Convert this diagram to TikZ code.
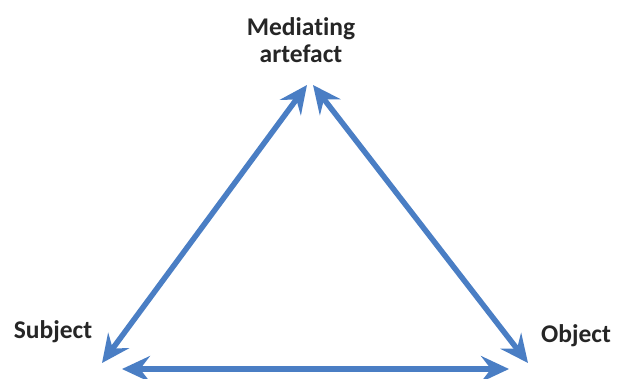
\documentclass[tikz,border=0pt]{standalone}
\usepackage{fontspec}
\setmainfont[Ligatures=NoCommon]{Carlito}
\usepackage{tikz}
\usetikzlibrary{arrows.meta,positioning}
\definecolor{arrowblue}{HTML}{4A7EC4}

\begin{document}
\begin{tikzpicture}[x=1pt, y=-1pt,
  lbl/.style={font=\fontsize{25.5}{27}\selectfont\bfseries, align=center, inner sep=0pt, text=black!85},
  arr/.style={{Stealth[length=28pt,width=26pt,inset=10pt]}-{Stealth[length=28pt,width=26pt,inset=10pt]}, line width=5.5pt, arrowblue}
]
  \useasboundingbox (0,0) rectangle (620,378);

  % corners of the triangle
  \coordinate (topl) at (307,85);
  \coordinate (topr) at (313,85);
  \coordinate (subjtip) at (102,363);
  \coordinate (objtip) at (528,363);
  \coordinate (botl) at (122,369);
  \coordinate (botr) at (509,369);

  \node[lbl] (artefact) at (301,40) {Mediating\\artefact};
  \node[lbl] (subject) at (53,332) {Subject};
  \node[lbl] (object) at (576,336) {Object};

  \draw[arr] (subjtip) -- (topl);
  \draw[arr] (topr) -- (objtip);
  \draw[arr] (botl) -- (botr);
\end{tikzpicture}
\end{document}
